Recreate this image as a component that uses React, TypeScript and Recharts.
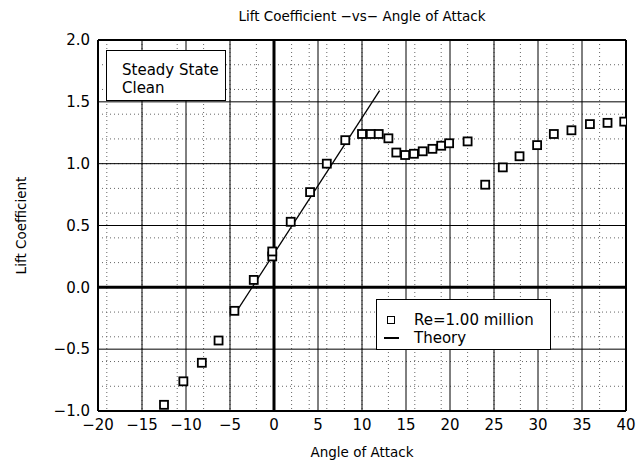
import React from 'react';
import {
  ComposedChart,
  Scatter,
  XAxis,
  YAxis,
  CartesianGrid,
  ReferenceLine,
  Label
} from 'recharts';

// the chart fills the whole window, so drop the default body margin
if (typeof document !== 'undefined') document.body.style.margin = '0';

// Measured points (Re = 1.00 million)
const angles = [
  -12.5, -10.3, -8.2, -6.3, -4.5, -2.3, -0.2, -0.2, 1.9, 4.1, 6.0, 8.1,
  10.0, 11.0, 11.9, 13.0, 13.9, 14.9, 15.9, 16.9, 18.0, 19.0, 19.9, 22.0,
  24.0, 26.0, 27.9, 29.9, 31.8, 33.8, 35.9, 37.9, 39.8
];
const liftCoef = [
  -0.95, -0.76, -0.61, -0.43, -0.19, 0.06, 0.25, 0.29, 0.53, 0.77, 1.0, 1.19,
  1.24, 1.24, 1.24, 1.205, 1.09, 1.07, 1.08, 1.1, 1.12, 1.145, 1.165, 1.18,
  0.83, 0.97, 1.06, 1.15, 1.24, 1.27, 1.32, 1.33, 1.34
];

// Thin airfoil theory line
const theoryAngles = [-4.4, 12.0];
const theoryCl = [-0.21, 1.59];

// Axis ticks
const xTicks = [-20, -15, -10, -5, 0, 5, 10, 15, 20, 25, 30, 35, 40];
const yTicks = [-1.0, -0.5, 0.0, 0.5, 1.0, 1.5, 2.0];

// Minor grid
const xMinor: number[] = [];
for (let v = -20; v <= 40; v += 1) xMinor.push(v);
const yMinor: number[] = [];
for (let v = -10; v <= 20; v += 1) yMinor.push(v / 10);

const measured = angles.map((a, i) => ({ x: a, y: liftCoef[i] }));
const theory = theoryAngles.map((a, i) => ({ x: a, y: theoryCl[i] }));

const font = '"DejaVu Sans", sans-serif';
const minus = (s: string) => s.replace('-', '\u2212');

const SquareDot = (props: any) => {
  const { cx, cy } = props;
  if (cx == null || cy == null) return null;
  return (
    <rect x={cx - 4} y={cy - 4} width={8} height={8} fill="#fff" stroke="#000" strokeWidth={1.8} />
  );
};

const styles = {
  page: {
    position: 'relative' as const,
    width: 636,
    height: 462,
    overflow: 'hidden' as const,
    background: '#fff',
    fontFamily: font,
    color: '#000'
  },
  title: {
    position: 'absolute' as const,
    left: 98,
    width: 528,
    top: 8,
    textAlign: 'center' as const,
    fontSize: 13.5
  },
  note: {
    position: 'absolute' as const,
    left: 106,
    top: 50,
    width: 120,
    height: 51,
    border: '1px solid #000',
    background: '#fff',
    boxSizing: 'border-box' as const,
    padding: '10px 0 0 15px',
    fontSize: 15,
    lineHeight: '18px'
  },
  legend: {
    position: 'absolute' as const,
    left: 376,
    top: 299,
    width: 175,
    height: 51,
    border: '1px solid #000',
    background: '#fff',
    boxSizing: 'border-box' as const,
    padding: '11px 0 0 6px',
    fontSize: 15,
    lineHeight: '18px'
  },
  legendRow: {
    display: 'flex',
    alignItems: 'center'
  },
  legendIcon: {
    width: 16,
    marginRight: 15,
    display: 'flex',
    justifyContent: 'center'
  }
};

const App: React.FC = () => (
  <div style={styles.page}>
    <ComposedChart
      width={636}
      height={462}
      margin={{ top: 40, right: 10, bottom: 21, left: 0 }}
      style={{ overflow: 'visible' }}
    >
      <CartesianGrid
        stroke="#666"
        strokeDasharray="1 3"
        verticalValues={xMinor}
        horizontalValues={yMinor}
      />
      <CartesianGrid stroke="#000" strokeWidth={1} />
      <XAxis
        type="number"
        dataKey="x"
        domain={[-20, 40]}
        ticks={xTicks}
        allowDataOverflow
        tickLine={false}
        axisLine={{ stroke: '#000', strokeWidth: 2 }}
        tick={{ fill: '#000', fontSize: 15, fontFamily: font }}
        tickFormatter={(v: number) => minus(String(v))}
        height={30}
      >
        <Label
          value="Angle of Attack"
          position="insideBottom"
          offset={-16}
          style={{ fill: '#000', fontSize: 13.5, fontFamily: font }}
        />
      </XAxis>
      <YAxis
        type="number"
        dataKey="y"
        domain={[-1, 2]}
        ticks={yTicks}
        allowDataOverflow
        tickLine={false}
        axisLine={{ stroke: '#000', strokeWidth: 2 }}
        tick={{ fill: '#000', fontSize: 15, fontFamily: font }}
        tickFormatter={(v: number) => minus(v.toFixed(1))}
        width={98}
      >
        <Label
          value="Lift Coefficient"
          angle={-90}
          position="insideLeft"
          offset={21}
          style={{ fill: '#000', fontSize: 13.5, fontFamily: font, textAnchor: 'middle' }}
        />
      </YAxis>
      <ReferenceLine x={0} stroke="#000" strokeWidth={3} />
      <ReferenceLine y={0} stroke="#000" strokeWidth={3} />
      <ReferenceLine x={40} stroke="#000" strokeWidth={2} />
      <ReferenceLine y={2} stroke="#000" strokeWidth={2} />
      <Scatter
        data={theory}
        line={{ stroke: '#000', strokeWidth: 1.3 }}
        shape={() => null}
        isAnimationActive={false}
      />
      <Scatter data={measured} shape={SquareDot} isAnimationActive={false} />
    </ComposedChart>

    <div style={styles.title}>Lift Coefficient &minus;vs&minus; Angle of Attack</div>

    <div style={styles.note}>
      <div>Steady State</div>
      <div>Clean</div>
    </div>

    <div style={styles.legend}>
      <div style={styles.legendRow}>
        <div style={styles.legendIcon}>
          <div style={{ width: 6, height: 6, border: '1.5px solid #000' }} />
        </div>
        <span>Re=1.00 million</span>
      </div>
      <div style={styles.legendRow}>
        <div style={styles.legendIcon}>
          <div style={{ width: 15, height: 2, background: '#000' }} />
        </div>
        <span>Theory</span>
      </div>
    </div>
  </div>
);

export default App;
